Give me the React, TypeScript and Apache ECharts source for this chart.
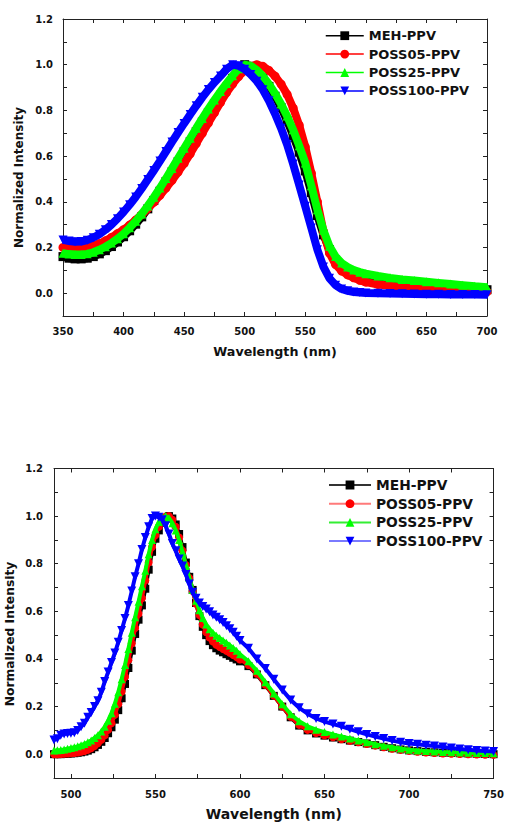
import React, { useEffect, useRef } from "react";
import * as echarts from "echarts";

// ---------- Data: top chart (absorption) ----------
const topX = [
  350, 355, 360, 365, 370, 375, 380, 385, 390, 395,
  400, 405, 410, 415, 420, 425, 430, 435, 440, 445,
  450, 455, 460, 465, 470, 475, 480, 485, 490, 495,
  500, 505, 510, 515, 520, 525, 530, 535, 540, 545,
  550, 555, 560, 565, 570, 575, 580, 585, 590, 595,
  600, 610, 620, 630, 640, 650, 660, 670, 680, 690, 700,
];
const topMEH = [
  0.160, 0.153, 0.150, 0.150, 0.153, 0.160, 0.172, 0.186, 0.204, 0.224,
  0.247, 0.273, 0.302, 0.334, 0.369, 0.406, 0.446, 0.488, 0.531, 0.575,
  0.619, 0.663, 0.707, 0.749, 0.790, 0.829, 0.866, 0.901, 0.940, 0.975,
  1.000, 0.993, 0.972, 0.942, 0.905, 0.862, 0.812, 0.755, 0.690, 0.617,
  0.535, 0.440, 0.340, 0.255, 0.190, 0.145, 0.115, 0.095, 0.082, 0.072,
  0.065, 0.055, 0.048, 0.042, 0.037, 0.033, 0.029, 0.025, 0.021, 0.018, 0.015,
];
const topPOSS05 = [
  0.200, 0.197, 0.196, 0.197, 0.200, 0.207, 0.217, 0.229, 0.244, 0.261,
  0.278, 0.298, 0.320, 0.344, 0.370, 0.398, 0.428, 0.460, 0.494, 0.530,
  0.568, 0.610, 0.655, 0.700, 0.745, 0.790, 0.835, 0.878, 0.915, 0.948,
  0.975, 0.993, 1.000, 0.993, 0.975, 0.950, 0.915, 0.870, 0.810, 0.735,
  0.640, 0.525, 0.400, 0.270, 0.175, 0.125, 0.097, 0.080, 0.067, 0.056,
  0.048, 0.038, 0.032, 0.027, 0.023, 0.019, 0.016, 0.013, 0.010, 0.008, 0.006,
];
const topPOSS25 = [
  0.175, 0.171, 0.169, 0.169, 0.172, 0.179, 0.190, 0.203, 0.219, 0.238,
  0.260, 0.286, 0.315, 0.347, 0.382, 0.420, 0.460, 0.502, 0.546, 0.590,
  0.634, 0.678, 0.722, 0.765, 0.806, 0.845, 0.883, 0.918, 0.952, 0.982,
  1.000, 0.995, 0.977, 0.950, 0.915, 0.874, 0.828, 0.775, 0.715, 0.645,
  0.570, 0.470, 0.365, 0.275, 0.205, 0.160, 0.132, 0.114, 0.101, 0.092,
  0.085, 0.075, 0.067, 0.060, 0.055, 0.050, 0.045, 0.040, 0.035, 0.030, 0.026,
];
const topPOSS100 = [
  0.233, 0.228, 0.225, 0.226, 0.232, 0.243, 0.258, 0.277, 0.300, 0.326,
  0.355, 0.387, 0.421, 0.458, 0.497, 0.537, 0.578, 0.620, 0.662, 0.703,
  0.743, 0.782, 0.820, 0.857, 0.891, 0.922, 0.950, 0.980, 1.000, 0.995,
  0.980, 0.957, 0.928, 0.890, 0.842, 0.785, 0.722, 0.650, 0.565, 0.473,
  0.380, 0.285, 0.190, 0.115, 0.065, 0.035, 0.018, 0.010, 0.005, 0.003,
  0.001, 0.000, -0.002, -0.003, -0.004, -0.005, -0.005, -0.006, -0.006, -0.006, -0.007,
];

// ---------- Data: bottom chart (photoluminescence) ----------
const botX = [
  490, 492, 494, 496, 498, 500, 502, 504, 506, 508,
  510, 512, 514, 516, 518, 520, 522, 524, 526, 528,
  530, 532, 534, 536, 538, 540, 542, 544, 546, 548,
  550, 552, 554, 556, 558, 560, 562, 564, 566, 568,
  570, 572, 574, 576, 578, 580, 582, 584, 586, 588,
  590, 592, 594, 596, 598, 600,
  605, 610, 615, 620, 625, 630, 635, 640, 645, 650,
  655, 660, 665, 670, 675, 680, 685, 690, 695, 700,
  705, 710, 715, 720, 725, 730, 735, 740, 745, 750,
];
const botMEH = [
  0.000, 0.000, 0.000, 0.001, 0.002, 0.003, 0.004, 0.006, 0.008, 0.011,
  0.015, 0.021, 0.029, 0.039, 0.052, 0.068, 0.088, 0.113, 0.145, 0.185,
  0.235, 0.295, 0.362, 0.435, 0.505, 0.565, 0.625, 0.695, 0.775, 0.850,
  0.905, 0.940, 0.972, 0.992, 1.000, 0.990, 0.965, 0.925, 0.870, 0.805,
  0.745, 0.690, 0.635, 0.580, 0.535, 0.500, 0.475, 0.458, 0.445, 0.435,
  0.428, 0.420, 0.413, 0.405, 0.398, 0.390,
  0.370, 0.335, 0.290, 0.245, 0.200, 0.155, 0.120, 0.100, 0.087, 0.078,
  0.070, 0.063, 0.057, 0.051, 0.045, 0.038, 0.031, 0.025, 0.020, 0.016,
  0.013, 0.010, 0.008, 0.006, 0.005, 0.004, 0.003, 0.002, 0.001, 0.000,
];
const botPOSS05 = [
  0.000, 0.000, 0.001, 0.002, 0.003, 0.004, 0.005, 0.007, 0.010, 0.013,
  0.018, 0.025, 0.034, 0.046, 0.061, 0.079, 0.102, 0.130, 0.165, 0.210,
  0.262, 0.325, 0.395, 0.465, 0.530, 0.590, 0.655, 0.730, 0.805, 0.870,
  0.920, 0.955, 0.982, 0.998, 1.000, 0.985, 0.955, 0.910, 0.855, 0.795,
  0.740, 0.685, 0.632, 0.585, 0.545, 0.512, 0.490, 0.473, 0.460, 0.450,
  0.442, 0.434, 0.426, 0.417, 0.408, 0.398,
  0.375, 0.338, 0.292, 0.246, 0.200, 0.157, 0.123, 0.102, 0.089, 0.079,
  0.071, 0.063, 0.056, 0.050, 0.043, 0.036, 0.029, 0.023, 0.018, 0.014,
  0.010, 0.007, 0.005, 0.003, 0.002, 0.001, 0.000, -0.001, -0.002, -0.003,
];
const botPOSS25 = [
  0.015, 0.017, 0.018, 0.020, 0.023, 0.026, 0.029, 0.033, 0.038, 0.043,
  0.050, 0.058, 0.068, 0.080, 0.095, 0.115, 0.140, 0.172, 0.212, 0.260,
  0.315, 0.375, 0.442, 0.510, 0.575, 0.640, 0.705, 0.770, 0.840, 0.900,
  0.945, 0.975, 0.993, 1.000, 0.992, 0.970, 0.940, 0.900, 0.850, 0.795,
  0.740, 0.690, 0.645, 0.605, 0.572, 0.545, 0.525, 0.510, 0.498, 0.488,
  0.478, 0.468, 0.457, 0.446, 0.434, 0.420,
  0.390, 0.350, 0.302, 0.255, 0.210, 0.168, 0.138, 0.117, 0.103, 0.093,
  0.083, 0.074, 0.066, 0.058, 0.050, 0.042, 0.035, 0.029, 0.024, 0.019,
  0.016, 0.013, 0.011, 0.009, 0.008, 0.007, 0.006, 0.005, 0.005, 0.004,
];
const botPOSS100 = [
  0.060, 0.065, 0.080, 0.085, 0.087, 0.088, 0.090, 0.100, 0.115, 0.130,
  0.155, 0.175, 0.200, 0.225, 0.260, 0.305, 0.345, 0.385, 0.425, 0.470,
  0.520, 0.570, 0.625, 0.685, 0.745, 0.800, 0.860, 0.910, 0.955, 0.990,
  1.000, 0.995, 0.985, 0.960, 0.925, 0.885, 0.855, 0.820, 0.790, 0.755,
  0.715, 0.680, 0.655, 0.635, 0.620, 0.610, 0.598, 0.585, 0.575, 0.565,
  0.553, 0.540, 0.527, 0.512, 0.495, 0.478,
  0.445, 0.400, 0.360, 0.315, 0.270, 0.228, 0.195, 0.170, 0.150, 0.137,
  0.127, 0.117, 0.105, 0.094, 0.083, 0.074, 0.066, 0.057, 0.050, 0.045,
  0.042, 0.038, 0.034, 0.030, 0.026, 0.022, 0.019, 0.016, 0.013, 0.011,
];

const seriesNames = ["MEH-PPV", "POSS05-PPV", "POSS25-PPV", "POSS100-PPV"];
const seriesColors = ["#000000", "#ff0000", "#00ff00", "#0000ff"];
const bottomLegendLineColors = ["#333333", "#ff7a7a", "#33ee33", "#7a7aff"];
const seriesSymbols = ["rect", "circle", "triangle", "triangle"];
const seriesRotate = [0, 0, 0, 180];

const xTitle = "Wavelength (nm)";
const yTitle = "Normalized Intensity";

const FONT = '"DejaVu Sans", sans-serif';
const AXIS_COLOR = "#222";

export default function App() {
  const ref = useRef<HTMLDivElement | null>(null);

  useEffect(() => {
    document.body.style.margin = "0";
    if (!ref.current) return;
    const chart = echarts.init(ref.current, null, { renderer: "svg" });

    const topData = [topMEH, topPOSS05, topPOSS25, topPOSS100];
    const botData = [botMEH, botPOSS05, botPOSS25, botPOSS100];

    const tickCommon = (showLabel: boolean, pos: string, gridIndex: number) => ({
      gridIndex,
      position: pos,
      axisLine: { show: true, onZero: false, lineStyle: { color: AXIS_COLOR, width: 1 } },
      axisTick: { show: true, inside: true, length: 4, lineStyle: { color: AXIS_COLOR, width: 1 } },
      minorTick: { show: true, splitNumber: 2, length: 4, lineStyle: { color: AXIS_COLOR, width: 1 } },
      splitLine: { show: false },
      minorSplitLine: { show: false },
      axisLabel: {
        show: showLabel,
        fontFamily: FONT,
        fontWeight: "bold",
        fontSize: 10,
        color: "#111",
        margin: 10,
      },
    });

    const yFmt = (v: number) =>
      Math.abs(Math.round(v * 10)) % 2 === 0 ? v.toFixed(1) : "";
    const xFmt = (v: number) => (Math.round(v) % 50 === 0 ? String(Math.round(v)) : "");

    const xAxes: any[] = [
      {
        type: "value",
        ...tickCommon(true, "bottom", 0),
        min: 350,
        max: 700,
        interval: 50,
        name: xTitle,
        nameLocation: "middle",
        nameGap: 29,
        nameTextStyle: { fontFamily: FONT, fontWeight: "bold", fontSize: 12.7, color: "#111" },
      },
      { type: "value", ...tickCommon(false, "top", 0), min: 350, max: 700, interval: 50 },
      {
        type: "value",
        ...tickCommon(true, "bottom", 1),
        min: 490,
        max: 750,
        name: xTitle,
        nameLocation: "middle",
        nameGap: 29,
        nameTextStyle: { fontFamily: FONT, fontWeight: "bold", fontSize: 14, color: "#111" },
      },
      { type: "value", ...tickCommon(false, "top", 1), min: 490, max: 750 },
    ];
    xAxes[2].axisLabel = { ...xAxes[2].axisLabel, formatter: xFmt, margin: 11 };

    const yAxes: any[] = [
      { type: "value", ...tickCommon(true, "left", 0), min: -0.1, max: 1.2, splitNumber: 6 },
      { type: "value", ...tickCommon(false, "right", 0), min: -0.1, max: 1.2, splitNumber: 6 },
      { type: "value", ...tickCommon(true, "left", 1), min: -0.1, max: 1.2, splitNumber: 6 },
      { type: "value", ...tickCommon(false, "right", 1), min: -0.1, max: 1.2, splitNumber: 6 },
    ];
    yAxes[0].axisLabel = { ...yAxes[0].axisLabel, formatter: yFmt, margin: 10 };
    yAxes[2].axisLabel = { ...yAxes[2].axisLabel, formatter: yFmt, margin: 11 };

    const series: any[] = [];
    seriesNames.forEach((name, i) => {
      series.push({
        type: "line",
        name,
        xAxisIndex: 0,
        yAxisIndex: 0,
        data: topX.map((x, k) => [x, topData[i][k]]),
        symbol: seriesSymbols[i],
        symbolSize: 9,
        symbolRotate: seriesRotate[i],
        showSymbol: true,
        showAllSymbol: true,
        lineStyle: { color: seriesColors[i], width: 8 },
        itemStyle: { color: seriesColors[i], borderWidth: 0 },
        emphasis: { disabled: true },
        z: 2 + i,
      });
    });
    seriesNames.forEach((name, i) => {
      series.push({
        type: "line",
        name,
        xAxisIndex: 2,
        yAxisIndex: 2,
        data: botX.map((x, k) => [x, botData[i][k]]),
        symbol: seriesSymbols[i],
        symbolSize: i === 3 ? 9 : 8,
        symbolRotate: seriesRotate[i],
        showSymbol: true,
        showAllSymbol: true,
        lineStyle: { color: seriesColors[i], width: 4 },
        itemStyle: { color: seriesColors[i], borderWidth: 0 },
        emphasis: { disabled: true },
        z: 2 + i,
      });
    });

    const legendCommon = {
      orient: "vertical",
      padding: 0,
      itemHeight: 11,
      selectedMode: false,
    };

    chart.setOption({
      animation: false,
      backgroundColor: "#ffffff",
      grid: [
        { left: 63, top: 19, width: 424, height: 297, containLabel: false },
        { left: 54, top: 468.5, width: 443, height: 309.5, containLabel: false },
      ],
      xAxis: xAxes,
      yAxis: yAxes,
      legend: [
        {
          ...legendCommon,
          left: 325,
          top: 28.7,
          itemWidth: 38,
          itemGap: 4.4,
          data: seriesNames,
          lineStyle: { width: 1.5 },
          textStyle: { fontFamily: FONT, fontWeight: "bold", fontSize: 13, color: "#111", lineHeight: 14 },
        },
        {
          ...legendCommon,
          left: 328,
          top: 478,
          itemWidth: 42,
          itemGap: 4.7,
          data: seriesNames.map((n, i) => ({
            name: n,
            lineStyle: { width: 2, color: bottomLegendLineColors[i] },
          })),
          lineStyle: { width: 2 },
          textStyle: { fontFamily: FONT, fontWeight: "bold", fontSize: 13.8, color: "#111", lineHeight: 14 },
        },
      ],
      graphic: [
        {
          type: "text",
          x: 19,
          y: 177.5,
          rotation: Math.PI / 2,
          style: {
            text: yTitle,
            fontFamily: FONT,
            fontWeight: "bold",
            fontSize: 12,
            fill: "#111",
            align: "center",
            verticalAlign: "middle",
          },
        },
        {
          type: "text",
          x: 9.5,
          y: 634,
          rotation: Math.PI / 2,
          style: {
            text: yTitle,
            fontFamily: FONT,
            fontWeight: "bold",
            fontSize: 12.3,
            fill: "#111",
            align: "center",
            verticalAlign: "middle",
          },
        },
      ],
      series,
    });

    return () => chart.dispose();
  }, []);

  return <div ref={ref} style={{ width: 507, height: 825 }} />;
}
